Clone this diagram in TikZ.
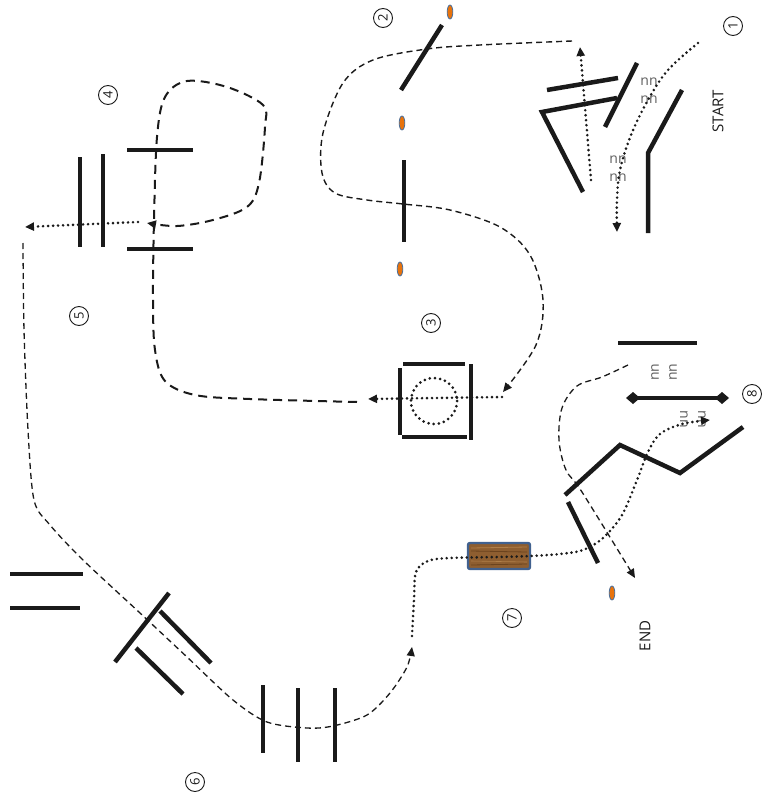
\documentclass[tikz,border=0pt]{standalone}
\usepackage{fontspec}
\setmainfont{Open Sans}
\usetikzlibrary{arrows.meta}
\definecolor{ink}{HTML}{1A1A1A}
\definecolor{orng}{HTML}{E8730C}
\definecolor{bluegrey}{HTML}{4A6E9A}
\definecolor{logblue}{HTML}{41618F}
\definecolor{logbrown}{HTML}{8E5E30}
\definecolor{logdark}{HTML}{6B431E}
\definecolor{loglight}{HTML}{B07F4A}
\tikzset{
  wall/.style={line width=4.5pt, draw=ink},
  dotline/.style={line width=2.9pt, draw=ink, dash pattern=on 0pt off 5pt, line cap=round},
  dashthin/.style={line width=1.3pt, draw=ink, dash pattern=on 6pt off 4pt},
  dashthick/.style={line width=2pt, draw=ink, dash pattern=on 9pt off 6pt},
  tip/.style={-{Triangle[length=9pt,width=8pt]}},
  numc/.style={circle, draw=ink, line width=0.9pt, minimum size=19pt, inner sep=0pt,
    font=\fontsize{13}{13}\selectfont, rotate=90, text=ink},
  lbl/.style={font=\fontsize{15}{15}\selectfont, rotate=90, text=ink, inner sep=0pt},
  glyph/.style={font=\fontsize{14}{18}\selectfont, text=ink!70, inner sep=0pt, align=center},
  marker/.style={fill=orng, draw=bluegrey, line width=0.8pt},
}
\begin{document}
\begin{tikzpicture}[x=1pt,y=-1pt]
\useasboundingbox (0,0) rectangle (762,800);

% ---------- labels ----------
\node[numc] (n1) at (733,26) {1};
\node[numc] (n2) at (383,18) {2};
\node[numc] (n3) at (431,323) {3};
\node[numc] (n4) at (108,95) {4};
\node[numc] (n5) at (79,316) {5};
\node[numc] (n6) at (195,782) {6};
\node[numc] (n7) at (512,618) {7};
\node[numc] (n8) at (752,394) {8};
\node[lbl] (start) at (718,111) {START};
\node[lbl] (end) at (645,636) {END};

% ---------- glyph groups ----------
\node[glyph] (g1) at (649,91) {nn\\nn};
\node[glyph] (g2) at (618,169) {nn\\nn};
\node[glyph, rotate=90] (g3) at (664,372) {nn\\nn};
\node[glyph, rotate=-90] (g4) at (693,419) {nn\\nn};

% ---------- orange markers ----------
\draw[marker] (450,12) ellipse [x radius=2.8, y radius=7];
\draw[marker] (402,123) ellipse [x radius=2.8, y radius=7];
\draw[marker] (400,269) ellipse [x radius=2.8, y radius=7];
\draw[marker] (612,593) ellipse [x radius=2.8, y radius=7];

% ---------- region 1 walls ----------
\draw[wall] (637,63) -- (605,127);
\draw[wall] (547,90) -- (618,78);
\draw[wall] (617,98) -- (542,112) -- (583,192);
\draw[wall] (682,90) -- (648,153) -- (648,233);

% ---------- region 2 walls ----------
\draw[wall] (442,25) -- (401,90);
\draw[wall] (404,160) -- (404,242);

% ---------- region 3 box ----------
\draw[wall] (403,364) -- (465,364);
\draw[wall] (400,368) -- (400,435);
\draw[wall] (402,437) -- (467,437);
\draw[wall] (471,364) -- (471,440);
\draw[line width=3pt, draw=ink, dash pattern=on 0pt off 5.2pt, line cap=round] (434,401) circle [radius=23];

% ---------- region 4 walls ----------
\draw[wall] (80,157) -- (80,247);
\draw[wall] (103,154) -- (103,247);
\draw[wall] (127,150) -- (193,150);
\draw[wall] (127,249) -- (193,249);

% ---------- region 6 walls ----------
\draw[wall] (10,574) -- (83,574);
\draw[wall] (10,608) -- (80,608);
\draw[wall] (115,662) -- (169,593);
\draw[wall] (160,611) -- (211,663);
\draw[wall] (136,648) -- (183,694);
\draw[wall] (263,685) -- (263,753);
\draw[wall] (298,688) -- (298,762);
\draw[wall] (335,688) -- (335,762);

% ---------- region 8 walls ----------
\draw[wall] (618,343) -- (697,343);
\draw[line width=4pt, draw=ink] (634,398) -- (721,398);
\fill[ink] (626,398) -- (633,392) -- (640,398) -- (633,404) -- cycle;
\fill[ink] (715,398) -- (722,392) -- (729,398) -- (722,404) -- cycle;
\draw[wall] (565,495) -- (620,445) -- (680,473) -- (743,427);
\draw[wall] (568,502) -- (598,563);

% ---------- log ----------
\draw[fill=logbrown, draw=logblue, line width=2.4pt, rounded corners=2pt] (468,543) rectangle (530,569);
\draw[loglight, line width=0.8pt] (471,548) -- (527,547);
\draw[logdark, line width=0.8pt] (471,551) -- (527,552);
\draw[loglight, line width=0.6pt] (471,561) -- (527,562);
\draw[logdark, line width=0.8pt] (471,565) -- (527,564);

% ---------- route ----------
% 1: start dotted
\draw[dotline, tip] plot[smooth, tension=0.6] coordinates {(698,43) (668,70) (648,100) (631,135) (620,170) (617,200) (617,232)};
% 1: dotted up arrow
\coordinate (d2s) at (591,180);
\coordinate (d2e) at (580,47);
\draw[dotline, tip] (d2s) -- (d2e);
% 2: dashed to box 3
\draw[dashthin, line width=1.4pt, tip] plot[smooth, tension=0.55] coordinates {(572,41) (480,45) (427,49) (373,60) (343,83) (323,133) (322,173) (335,193) (367,200) (403,204) (450,210) (500,227) (530,255) (543,300) (536,345) (503,392)};
% 3: dotted through box
\coordinate (d3s) at (502,397);
\coordinate (d3e) at (368,399);
\draw[dotline, tip] (d3s) -- (d3e);
% 4: dashed loop
\draw[dashthick, tip] plot[smooth, tension=0.55] coordinates {(357,402) (250,399) (195,395) (165,381) (155,350) (153,300) (154,220) (157,137) (165,97) (187,81) (227,87) (263,105) (265,127) (259,183) (247,207) (213,220) (177,226) (147,223)};
% 4: dotted left
\coordinate (d4s) at (138,222);
\coordinate (d4e) at (25,227);
\draw[dotline, tip] (d4s) -- (d4e);
% 5-6: dashed down to 7
\draw[dashthin, tip] plot[smooth, tension=0.5] coordinates {(23,243) (24,330) (28,430) (34,500) (50,525) (83,560) (140,613) (187,657) (233,700) (267,722) (307,728) (333,726) (367,715) (390,693) (407,667) (412,647)};
% 7: dotted through log to 8
\draw[dotline, tip] plot[smooth, tension=0.55] coordinates {(412,636) (414,600) (416,572) (428,561) (450,558) (499,557) (530,556) (560,554) (583,550) (603,538) (622,515) (637,480) (648,452) (660,434) (682,424) (710,420)};
% 8: dashed to end
\draw[dashthin, tip] plot[smooth, tension=0.55] coordinates {(628,365) (602,377) (577,386) (562,408) (559,440) (566,470) (582,492) (635,578)};

\end{tikzpicture}
\end{document}
